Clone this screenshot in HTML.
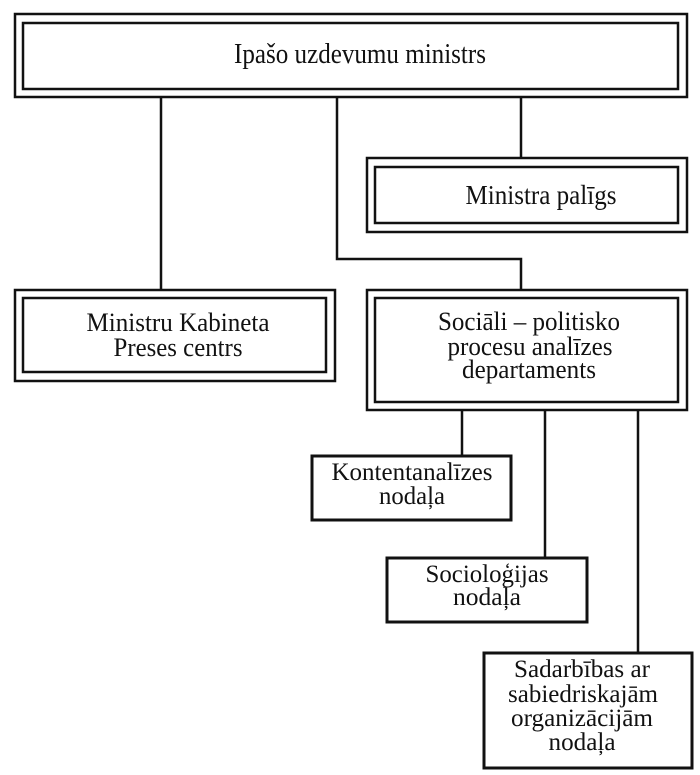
<!DOCTYPE html>
<html><head><meta charset="utf-8"><style>
html,body{margin:0;padding:0;background:#fff;}
svg{display:block;}
text{font-family:"Liberation Serif",serif;fill:#111;text-anchor:middle;}
</style></head><body>
<svg width="700" height="775" viewBox="0 0 700 775" xmlns="http://www.w3.org/2000/svg">
<g fill="none" stroke="#111" stroke-width="2.5">
<rect x="15" y="14" width="672" height="83"/>
<rect x="23" y="23" width="655" height="66"/>
<line x1="161" y1="97" x2="161" y2="290"/>
<polyline points="337,97 337,259 521,259 521,290"/>
<line x1="521" y1="97" x2="521" y2="158"/>
<rect x="367" y="158" width="320" height="74"/>
<rect x="375" y="167" width="303" height="56"/>
<rect x="15" y="290" width="320" height="91"/>
<rect x="23" y="298" width="303" height="74"/>
<rect x="367" y="290" width="320" height="120"/>
<rect x="375" y="298" width="303" height="104"/>
<line x1="462" y1="410" x2="462" y2="456"/>
<line x1="545" y1="410" x2="545" y2="558"/>
<line x1="638" y1="410" x2="638" y2="653"/>
</g>
<g fill="none" stroke="#111" stroke-width="3">
<rect x="312" y="456" width="199" height="64"/>
<rect x="387" y="558" width="200" height="64"/>
<rect x="484" y="653" width="208" height="115"/>
</g>
<g lengthAdjust="spacingAndGlyphs">
<text x="360" y="63" font-size="28" textLength="252" lengthAdjust="spacingAndGlyphs">Ipašo uzdevumu ministrs</text>
<text x="541" y="204" font-size="27" textLength="151" lengthAdjust="spacingAndGlyphs">Ministra palīgs</text>
<text x="178" y="331" font-size="26" textLength="183" lengthAdjust="spacingAndGlyphs">Ministru Kabineta</text>
<text x="178" y="356" font-size="26" textLength="129" lengthAdjust="spacingAndGlyphs">Preses centrs</text>
<text x="529" y="330" font-size="26" textLength="182" lengthAdjust="spacingAndGlyphs">Sociāli – politisko</text>
<text x="530" y="355" font-size="26" textLength="165" lengthAdjust="spacingAndGlyphs">procesu analīzes</text>
<text x="529" y="378" font-size="26" textLength="134" lengthAdjust="spacingAndGlyphs">departaments</text>
<text x="412" y="480" font-size="25" textLength="161" lengthAdjust="spacingAndGlyphs">Kontentanalīzes</text>
<text x="412" y="504" font-size="25" textLength="66" lengthAdjust="spacingAndGlyphs">nodaļa</text>
<text x="487" y="582" font-size="25" textLength="123" lengthAdjust="spacingAndGlyphs">Socioloģijas</text>
<text x="487" y="605" font-size="25" textLength="68" lengthAdjust="spacingAndGlyphs">nodaļa</text>
<text x="582" y="677" font-size="25" textLength="136" lengthAdjust="spacingAndGlyphs">Sadarbības ar</text>
<text x="583" y="702" font-size="25" textLength="150" lengthAdjust="spacingAndGlyphs">sabiedriskajām</text>
<text x="582" y="726" font-size="25" textLength="142" lengthAdjust="spacingAndGlyphs">organizācijām</text>
<text x="582" y="750" font-size="25" textLength="67" lengthAdjust="spacingAndGlyphs">nodaļa</text>
</g>
</svg>
</body></html>
